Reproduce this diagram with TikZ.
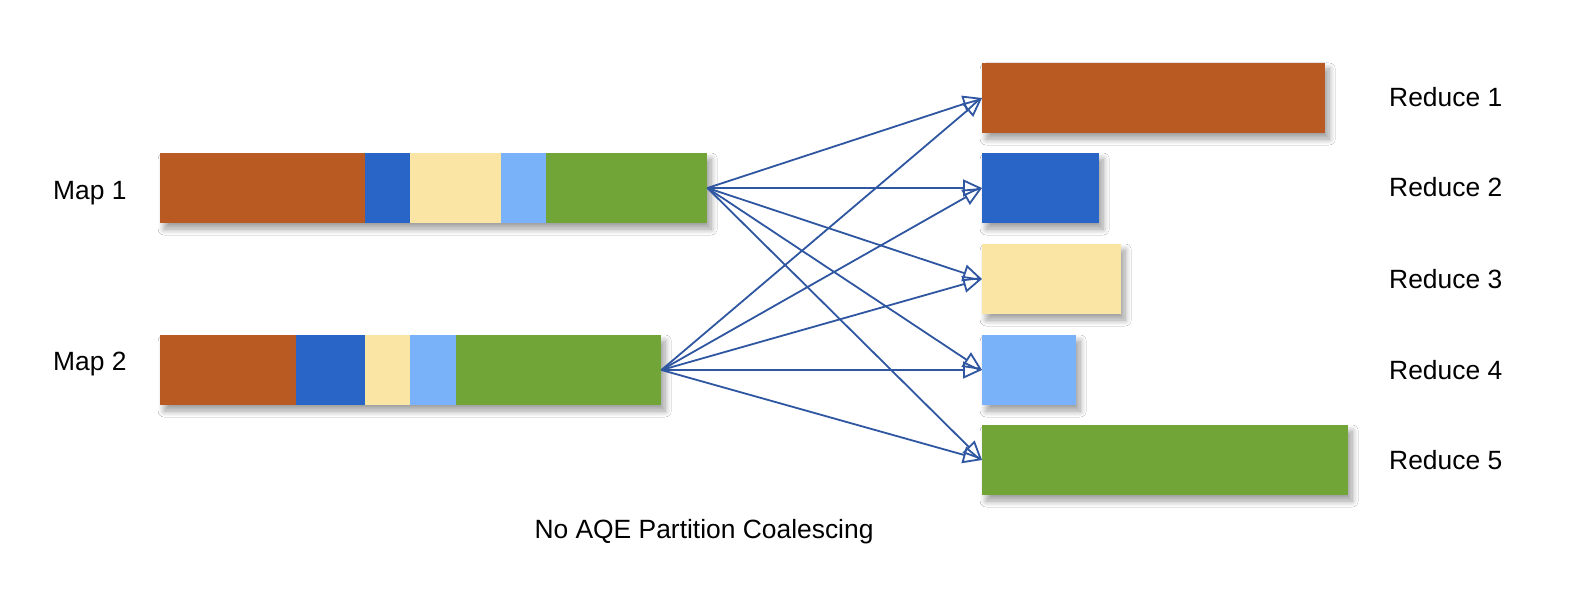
\documentclass[tikz,border=0pt]{standalone}
\usepackage{fontspec}
\setmainfont{Liberation Sans}
\usetikzlibrary{
  arrows.meta,
  positioning,
  shadows.blur,
}
\definecolor{brownbar}{HTML}{B85A22}
\definecolor{bluebar}{HTML}{2965C6}
\definecolor{yellowbar}{HTML}{FAE5A4}
\definecolor{lightbar}{HTML}{7AB2F9}
\definecolor{greenbar}{HTML}{72A538}
\definecolor{linkblue}{HTML}{2F56A0}
\tikzset{
  >={Triangle[open,length=19bp,width=17bp]},
  part/.style={inner sep=0pt, minimum height=70bp, anchor=west},
  shade/.style={part, fill=white,
    blur shadow={shadow xshift=4bp, shadow yshift=-6bp,
      shadow blur radius=6bp, shadow blur steps=14, shadow opacity=38}},
  tag/.style={anchor=base west, inner sep=0pt,
    font=\fontsize{26.5}{32}\selectfont},
  link/.style={linkblue, line width=1.8bp},
}

\begin{document}
\begin{tikzpicture}[x=1bp, y=-1bp]
  \useasboundingbox[fill=white] (0,0) rectangle (1574,610);

  % map outputs
  \node[shade, minimum width=547bp] (m1) at (160,188) {};
  \node[shade, minimum width=501bp] (m2) at (160,370) {};
  \foreach \n/\x/\w/\c in {
    a/160/205/brownbar,
    b/365/45/bluebar,
    c/410/91/yellowbar,
    d/501/45/lightbar,
    e/546/161/greenbar} {
    \node[part, fill=\c, minimum width=\w bp] (m1\n) at (\x,188) {};
  }
  \foreach \n/\x/\w/\c in {
    a/160/136/brownbar,
    b/296/69/bluebar,
    c/365/45/yellowbar,
    d/410/46/lightbar,
    e/456/205/greenbar} {
    \node[part, fill=\c, minimum width=\w bp] (m2\n) at (\x,370) {};
  }
  \node[tag] (map1) at (53,200) {Map 1};
  \node[tag] (map2) at (53,370) {Map 2};

  % reduce inputs
  \foreach \i/\y/\w/\c in {
    1/98/343/brownbar,
    2/188/117/bluebar,
    3/279/139/yellowbar,
    4/370/94/lightbar,
    5/460/366/greenbar} {
    \node[shade, fill=\c, minimum width=\w bp] (r\i) at (982,\y) {};
    \node[tag] (red\i) at (1389,\y+9) {Reduce \i};
  }

  \foreach \i in {1,...,5} {
    \draw[->, link] (m1.east) -- (r\i.west);
    \draw[->, link] (m2.east) -- (r\i.west);
  }

  \node[font=\fontsize{26.5}{32}\selectfont, anchor=base] (caption) at (704,538)
    {No AQE Partition Coalescing};
\end{tikzpicture}
\end{document}
